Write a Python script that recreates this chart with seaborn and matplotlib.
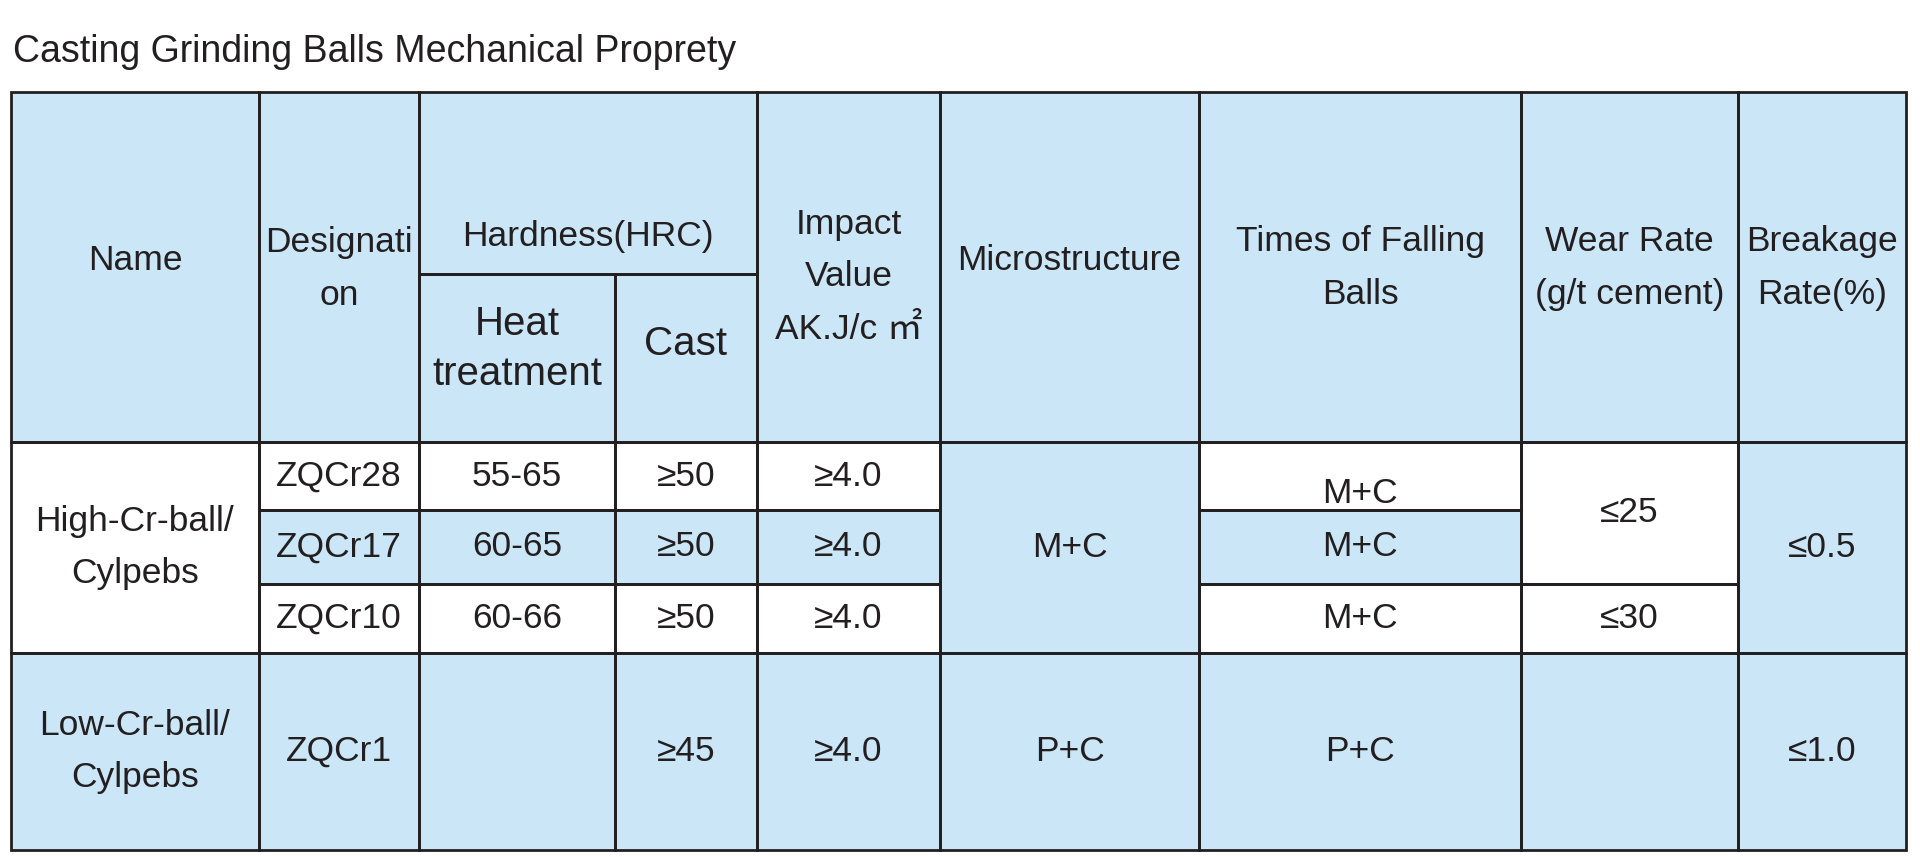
import matplotlib.pyplot as plt
import matplotlib.patches as mpatches
import seaborn as sns

title = "Casting Grinding Balls Mechanical Proprety"

headers = ["Name", "Designati\non", "Hardness(HRC)", "Heat\ntreatment", "Cast",
           "Impact\nValue\nAK.J/c ㎡", "Microstructure", "Times of Falling\nBalls",
           "Wear Rate\n(g/t cement)", "Breakage\nRate(%)"]

names = ["High-Cr-ball/\nCylpebs", "Low-Cr-ball/\nCylpebs"]
designations = ["ZQCr28", "ZQCr17", "ZQCr10", "ZQCr1"]
heat_treatment = ["55-65", "60-65", "60-66", ""]
cast = ["≥50", "≥50", "≥50", "≥45"]
impact = ["≥4.0", "≥4.0", "≥4.0", "≥4.0"]
microstructure = ["M+C", "P+C"]
falling_times = ["M+C", "M+C", "M+C", "P+C"]
wear_rate = ["≤25", "≤30", ""]
breakage_rate = ["≤0.5", "≤1.0"]

# layout (pixels of the 1920x857 figure)
col_edges = [11, 259, 419, 615, 757, 940, 1199, 1521, 1738, 1906]
row_edges = [92, 274, 442, 510, 584, 653, 850]

BLUE = "#cae6f7"
WHITE = "#ffffff"
LINE = "#231f20"
TEXT = "#231f20"
body_fill = [WHITE, BLUE, WHITE, BLUE]

sns.set_theme(style="white")
plt.rcParams["font.family"] = ["Liberation Sans", "Noto Sans CJK SC", "DejaVu Sans"]

# cells: (row0, row1, col0, col1, text, fill, text offset y, font size)
cells = [
    (0, 2, 0, 1, headers[0], BLUE, -7, 25.5),
    (0, 2, 1, 2, headers[1], BLUE, 2, 25.5),
    (0, 1, 2, 4, headers[2], BLUE, 53, 25.5),
    (1, 2, 2, 3, headers[3], BLUE, -9, 29),
    (1, 2, 3, 4, headers[4], BLUE, -14, 29),
    (0, 2, 4, 5, headers[5], BLUE, 10, 25.5),
    (0, 2, 5, 6, headers[6], BLUE, -7, 25.5),
    (0, 2, 6, 7, headers[7], BLUE, 1, 25.5),
    (0, 2, 7, 8, headers[8], BLUE, 1, 25.5),
    (0, 2, 8, 9, headers[9], BLUE, 1, 25.5),
    (2, 5, 0, 1, names[0], WHITE, 0, 25.5),
    (5, 6, 0, 1, names[1], BLUE, 0, 25.5),
    (2, 5, 5, 6, microstructure[0], BLUE, 0, 25.5),
    (5, 6, 5, 6, microstructure[1], BLUE, 0, 25.5),
    (2, 4, 7, 8, wear_rate[0], WHITE, 0, 25.5),
    (4, 5, 7, 8, wear_rate[1], WHITE, 0, 25.5),
    (5, 6, 7, 8, wear_rate[2], BLUE, 0, 25.5),
    (2, 5, 8, 9, breakage_rate[0], BLUE, 0, 25.5),
    (5, 6, 8, 9, breakage_rate[1], BLUE, 0, 25.5),
]
for i in range(4):
    r = 2 + i
    for c, col in enumerate([designations, heat_treatment, cast, impact]):
        cells.append((r, r + 1, 1 + c, 2 + c, col[i], body_fill[i], 0, 25.5))
    cells.append((r, r + 1, 6, 7, falling_times[i], body_fill[i], 17 if i == 0 else 0, 25.5))

fig = plt.figure(figsize=(19.2, 8.57), dpi=100)
ax = fig.add_axes([0, 0, 1, 1])
ax.set_xlim(0, 1920)
ax.set_ylim(857, 0)
ax.axis("off")

for r0, r1, c0, c1, txt, fill, dy, size in cells:
    x0, x1 = col_edges[c0], col_edges[c1]
    y0, y1 = row_edges[r0], row_edges[r1]
    ax.add_patch(mpatches.Rectangle((x0, y0), x1 - x0, y1 - y0,
                                    facecolor=fill, edgecolor="none", zorder=1))
    if txt:
        ls = 1.42 if size > 26 else 1.74
        ax.text((x0 + x1) / 2, (y0 + y1) / 2 + dy, txt, ha="center", va="center",
                fontsize=size, color=TEXT, linespacing=ls, zorder=3)

for r0, r1, c0, c1, txt, fill, dy, size in cells:
    x0, x1 = col_edges[c0], col_edges[c1]
    y0, y1 = row_edges[r0], row_edges[r1]
    ax.add_patch(mpatches.Rectangle((x0, y0), x1 - x0, y1 - y0,
                                    facecolor="none", edgecolor=LINE,
                                    linewidth=2.0, zorder=2))

ax.text(13, 62, title, ha="left", va="baseline", fontsize=27, color=TEXT)

fig.savefig("out.png", dpi=100, facecolor="white")
